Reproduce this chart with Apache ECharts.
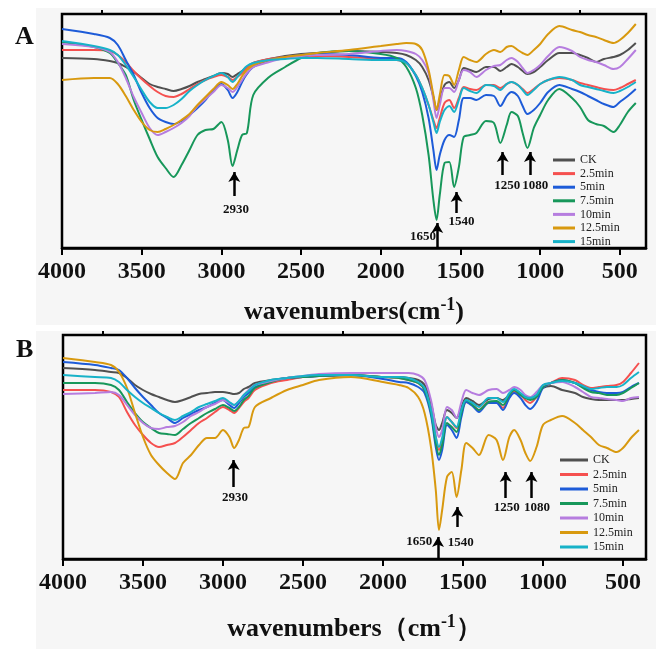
<!DOCTYPE html>
<html>
<head>
<meta charset="utf-8">
<script src="https://cdn.jsdelivr.net/npm/echarts@6/dist/echarts.min.js"></script>
<style>
	html, body { margin: 0; padding: 0; background: #fff; }
	#main { width: 656px; height: 655px; }
</style>
</head>
<body>
<div id="main"></div>
<script>
	// wavenumber grid (cm-1), shared by every spectrum
	const wavenumbers = [4000, 3800, 3700, 3650, 3600, 3550, 3500, 3450, 3400, 3350, 3300, 3250, 3200, 3150, 3100, 3050, 3000, 2960, 2930, 2900, 2870, 2840, 2800, 2700, 2600, 2500, 2400, 2200, 2000, 1900, 1840, 1780, 1740, 1700, 1670, 1650, 1630, 1600, 1570, 1540, 1510, 1480, 1440, 1400, 1340, 1290, 1250, 1210, 1180, 1140, 1110, 1080, 1040, 1000, 950, 880, 800, 750, 700, 650, 600, 540, 500, 450, 400]
	const names = ['CK', '2.5min', '5min', '7.5min', '10min', '12.5min', '15min']
	const colors = ['#505050', '#f5504f', '#1d5bd8', '#17975a', '#b67ddf', '#d8990f', '#17b2c8']

	// panel A (transmittance, arbitrary units)
	const ckA = [190, 189, 187, 185, 181, 176, 170, 164, 161, 159, 157, 159, 162, 166, 169, 172, 175, 174, 171, 174, 177, 181, 185, 189, 192, 194, 195, 197, 196, 195, 193, 188, 181, 168, 151, 138, 148, 163, 166, 160, 168, 180, 178, 176, 181, 181, 177, 181, 184, 181, 177, 174, 176, 181, 188, 195, 195, 193, 190, 186, 189, 191, 193, 198, 205]
	const m25A = [198, 198, 197, 193, 186, 177, 169, 162, 156, 152, 151, 154, 159, 164, 168, 171, 173, 171, 168, 171, 175, 180, 185, 189, 191, 192, 192, 191, 189, 188, 185, 173, 160, 143, 128, 120, 130, 145, 148, 140, 150, 161, 159, 158, 163, 163, 160, 164, 166, 163, 159, 155, 159, 164, 168, 170, 168, 165, 163, 161, 159, 158, 160, 164, 168]
	const m5A = [219, 214, 210, 203, 188, 173, 155, 140, 130, 126, 124, 127, 133, 140, 148, 158, 164, 158, 150, 156, 166, 174, 181, 188, 191, 193, 194, 193, 190, 190, 186, 172, 156, 130, 98, 78, 93, 108, 113, 111, 128, 150, 150, 148, 153, 152, 142, 152, 156, 152, 142, 134, 138, 145, 156, 163, 159, 156, 152, 148, 144, 141, 146, 152, 159]
	const m75A = [206, 201, 195, 185, 173, 148, 128, 109, 91, 80, 71, 83, 98, 113, 118, 119, 126, 108, 82, 98, 113, 115, 153, 171, 181, 190, 195, 197, 194, 190, 181, 160, 133, 93, 48, 28, 53, 85, 86, 61, 81, 111, 113, 115, 127, 125, 105, 123, 136, 132, 115, 100, 120, 133, 148, 159, 150, 141, 128, 124, 122, 116, 123, 136, 145]
	const m10A = [204, 201, 196, 186, 170, 151, 135, 120, 113, 116, 120, 125, 132, 142, 149, 156, 163, 160, 156, 161, 168, 175, 181, 186, 190, 192, 193, 194, 197, 198, 197, 194, 188, 175, 148, 130, 143, 160, 160, 156, 168, 178, 176, 171, 178, 182, 183, 188, 190, 186, 180, 175, 178, 183, 192, 201, 197, 191, 188, 186, 183, 179, 181, 189, 198]
	const m125A = [168, 170, 170, 164, 152, 138, 126, 118, 116, 119, 123, 128, 134, 143, 151, 159, 166, 163, 159, 164, 172, 178, 183, 188, 191, 193, 195, 198, 202, 204, 205, 204, 198, 178, 153, 138, 153, 173, 172, 163, 178, 191, 188, 186, 194, 198, 196, 201, 202, 198, 195, 193, 198, 204, 214, 222, 218, 216, 213, 211, 208, 205, 208, 215, 224]
	const m15A = [207, 202, 198, 193, 183, 171, 158, 146, 140, 140, 143, 149, 157, 163, 168, 172, 175, 171, 166, 171, 177, 182, 185, 188, 189, 190, 190, 189, 188, 188, 185, 173, 160, 143, 126, 115, 126, 138, 142, 136, 148, 160, 157, 155, 163, 162, 158, 164, 166, 163, 158, 153, 158, 164, 168, 171, 168, 163, 161, 159, 157, 155, 157, 161, 166]

	// panel B
	const ckB = [191, 189, 187, 186, 181, 174, 169, 165, 162, 159, 157, 159, 162, 165, 166, 167, 167, 166, 165, 166, 170, 172, 176, 179, 181, 182, 183, 184, 182, 182, 181, 179, 174, 156, 134, 129, 136, 149, 146, 141, 152, 161, 158, 154, 160, 161, 159, 164, 167, 164, 162, 161, 164, 171, 173, 169, 166, 162, 160, 159, 159, 159, 159, 160, 161]
	const m25B = [169, 169, 167, 162, 147, 134, 124, 116, 112, 114, 116, 122, 129, 136, 141, 147, 152, 149, 146, 151, 157, 161, 169, 176, 179, 182, 183, 184, 182, 181, 179, 176, 169, 149, 122, 109, 119, 142, 137, 131, 146, 157, 154, 149, 157, 157, 151, 162, 167, 164, 159, 156, 162, 172, 176, 181, 179, 174, 171, 172, 173, 174, 177, 186, 196]
	const m5B = [197, 194, 191, 189, 181, 171, 162, 154, 146, 141, 136, 141, 145, 149, 152, 156, 159, 154, 151, 156, 162, 166, 172, 178, 181, 182, 183, 184, 180, 177, 176, 172, 166, 144, 112, 99, 109, 134, 129, 121, 142, 157, 153, 147, 156, 156, 149, 161, 166, 161, 154, 150, 157, 171, 176, 179, 176, 172, 169, 167, 166, 166, 167, 172, 176]
	const m75B = [176, 176, 174, 169, 157, 146, 137, 131, 126, 125, 124, 130, 136, 141, 146, 150, 154, 151, 148, 152, 159, 163, 171, 177, 181, 182, 183, 184, 182, 181, 179, 176, 169, 147, 116, 104, 114, 136, 132, 127, 146, 159, 154, 149, 157, 158, 154, 164, 169, 164, 161, 159, 162, 172, 176, 179, 176, 171, 167, 166, 164, 164, 166, 171, 176]
	const m10B = [165, 166, 167, 164, 154, 144, 136, 131, 130, 132, 133, 137, 143, 147, 152, 155, 159, 156, 154, 158, 164, 169, 174, 178, 181, 183, 185, 186, 186, 186, 186, 184, 179, 159, 132, 122, 129, 152, 149, 141, 157, 169, 166, 164, 169, 170, 166, 169, 172, 169, 164, 162, 167, 174, 176, 177, 172, 167, 162, 161, 160, 159, 158, 161, 162]
	const m125B = [201, 197, 194, 187, 171, 146, 122, 104, 94, 86, 80, 96, 104, 114, 121, 121, 129, 122, 111, 119, 131, 132, 152, 161, 169, 174, 179, 182, 177, 174, 171, 162, 146, 112, 69, 29, 49, 82, 87, 62, 89, 116, 111, 104, 124, 119, 99, 122, 129, 119, 106, 98, 112, 134, 139, 143, 136, 129, 122, 114, 111, 107, 111, 121, 129]
	const m15B = [184, 182, 181, 177, 169, 162, 156, 151, 146, 142, 139, 143, 147, 152, 155, 158, 161, 157, 154, 158, 164, 168, 174, 179, 181, 183, 184, 184, 182, 182, 181, 177, 171, 149, 122, 112, 121, 142, 137, 132, 149, 159, 156, 152, 161, 161, 157, 166, 170, 166, 162, 161, 164, 174, 176, 178, 176, 173, 170, 171, 172, 172, 174, 181, 187]

	// axis ticks
	const majorTicks = [4000, 3500, 3000, 2500, 2000, 1500, 1000, 500]
	const minorTicks = [3750, 3250, 2750, 2250, 1750, 1250, 750]

	// peak arrows: [wavenumber, tail, tip]  /  peak labels: [text, wavenumber, y]
	const arrowsA = [[2919, 52, 76], [1646, 0, 25], [1524, 35, 56], [1235, 73, 96], [1064, 73, 96]]
	const labelsA = [['2930', 2908, 38], ['1650', 1735, 11], ['1540', 1493, 26], ['1250', 1206, 62], ['1080', 1031, 62]]
	const arrowsB = [[2933, 72, 99], [1656, 0, 22], [1535, 32, 52], [1233, 61, 87], [1072, 61, 87]]
	const labelsB = [['2930', 2925, 61], ['1650', 1773, 17], ['1540', 1514, 16], ['1250', 1227, 51], ['1080', 1037, 51]]

	const serif = "'Liberation Serif', 'Times New Roman', serif"

	function makeXAxes(grid, min, fullParen) {
		let name = fullParen ? '{t|wavenumbers（cm}{s|-1}{t|）}' : '{t|wavenumbers(cm}{s|-1}{t|)}'
		return [
			{
				gridIndex: grid,
				type: 'value',
				inverse: true,
				min: min,
				max: 4000,
				name: name,
				nameLocation: 'middle',
				nameGap: grid === 0 ? 48 : 54,
				nameTextStyle: {
					rich: {
						t: { fontSize: 26, fontWeight: 'bold', fontFamily: serif, color: '#111' },
						s: { fontSize: 18, fontWeight: 'bold', fontFamily: serif, color: '#111', padding: [0, 0, 14, 0] }
					}
				},
				axisLine: { show: true, lineStyle: { color: '#000', width: 2.5 } },
				axisTick: { show: true, length: 7, lineStyle: { width: 2, color: '#000' }, customValues: majorTicks },
				axisLabel: {
					customValues: majorTicks,
					formatter: v => String(v),
					margin: 12,
					fontSize: 24,
					fontWeight: 'bold',
					fontFamily: serif,
					color: '#111'
				},
				splitLine: { show: false }
			},
			{
				gridIndex: grid,
				type: 'value',
				inverse: true,
				min: min,
				max: 4000,
				axisLine: { show: false },
				axisTick: { show: true, length: 4, lineStyle: { width: 2, color: '#000' }, customValues: minorTicks },
				axisLabel: { show: false, customValues: minorTicks },
				splitLine: { show: false }
			}
		]
	}

	function lineSeries(i, vals, grid) {
		return {
			name: names[i],
			type: 'line',
			xAxisIndex: grid * 2,
			yAxisIndex: grid,
			data: wavenumbers.map((w, k) => [w, vals[k]]),
			showSymbol: false,
			smooth: 0.3,
			lineStyle: { width: 2, color: colors[i] },
			itemStyle: { color: colors[i] },
			z: 3
		}
	}

	function addPeaks(series, arrows, labels) {
		series.markLine = {
			silent: true,
			symbol: ['none', 'arrow'],
			symbolSize: [9, 10],
			lineStyle: { color: '#000', width: 2.5, type: 'solid' },
			label: { show: false },
			emphasis: { disabled: true },
			data: arrows.map(a => [{ coord: [a[0], a[1]] }, { coord: [a[0], a[2]] }])
		}
		series.markPoint = {
			silent: true,
			symbol: 'circle',
			symbolSize: 1,
			itemStyle: { color: 'rgba(0,0,0,0)' },
			label: {
				show: true,
				position: 'inside',
				formatter: p => p.name,
				color: '#111',
				fontSize: 13,
				fontWeight: 'bold',
				fontFamily: serif
			},
			data: labels.map(l => ({ name: l[0], coord: [l[1], l[2]] }))
		}
		return series
	}

	let seriesA = [ckA, m25A, m5A, m75A, m10A, m125A, m15A].map((v, i) => lineSeries(i, v, 0))
	let seriesB = [ckB, m25B, m5B, m75B, m10B, m125B, m15B].map((v, i) => lineSeries(i, v, 1))
	addPeaks(seriesA[0], arrowsA, labelsA)
	addPeaks(seriesB[0], arrowsB, labelsB)

	function makeLegend(left, top, width, gap) {
		return {
			orient: 'vertical',
			left: left,
			top: top,
			icon: 'rect',
			itemWidth: width,
			itemHeight: 3,
			itemGap: gap,
			selectedMode: false,
			textStyle: { fontSize: 12, lineHeight: 12, fontFamily: serif, color: '#222' },
			data: names
		}
	}

	let myChart = echarts.init(document.getElementById('main'), null, { renderer: 'canvas' })
	let option = {
		animation: false,
		backgroundColor: '#fff',
		graphic: [
			{ type: 'rect', silent: true, z: -10, shape: { x: 36, y: 8, width: 620, height: 317 }, style: { fill: '#f6f6f6' } },
			{ type: 'rect', silent: true, z: -10, shape: { x: 36, y: 331, width: 620, height: 318 }, style: { fill: '#f6f6f6' } }
		],
		title: [
			{ text: 'A', left: 10, top: 19, textStyle: { fontSize: 26, fontWeight: 'bold', fontFamily: serif, color: '#111' } },
			{ text: 'B', left: 11, top: 332, textStyle: { fontSize: 26, fontWeight: 'bold', fontFamily: serif, color: '#111' } }
		],
		legend: [makeLegend(548, 149, 22, 1.6), makeLegend(555, 449, 28, 2.5)],
		grid: [
			{ left: 62, top: 14, width: 584, height: 234, show: true, borderColor: '#000', borderWidth: 2.5, backgroundColor: 'transparent' },
			{ left: 63, top: 335, width: 583, height: 224, show: true, borderColor: '#000', borderWidth: 2.5, backgroundColor: 'transparent' }
		],
		xAxis: makeXAxes(0, 336, false).concat(makeXAxes(1, 356, true)),
		yAxis: [
			{ gridIndex: 0, type: 'value', min: 0, max: 234, show: false },
			{ gridIndex: 1, type: 'value', min: 0, max: 224, show: false }
		],
		series: seriesA.concat(seriesB)
	}
	myChart.setOption(option)
</script>
</body>
</html>
